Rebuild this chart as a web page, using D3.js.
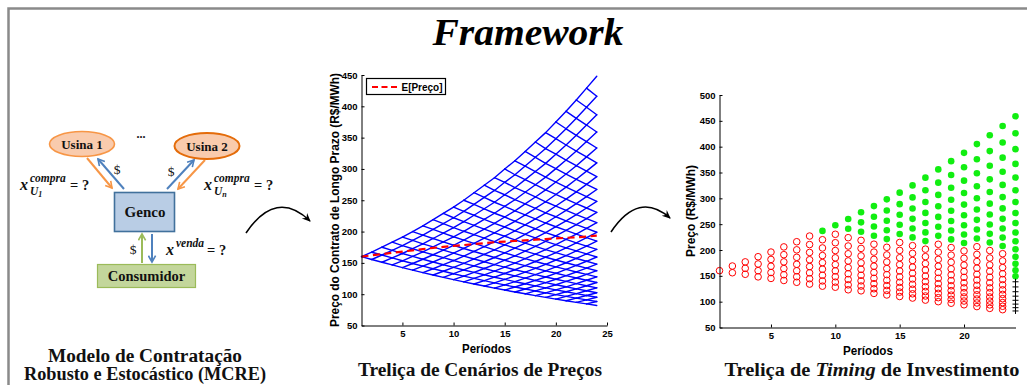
<!DOCTYPE html>
<html>
<head>
<meta charset="utf-8">
<script src="https://cdn.jsdelivr.net/npm/d3@7"></script>
<style>
  body { margin: 0; background: #fff; }
  svg { display: block; }
</style>
</head>
<body>
<svg id="fig" width="1027" height="385"></svg>
<script>
// ---- data ------------------------------------------------------------
const periods = [1,2,3,4,5,6,7,8,9,10,11,12,13,14,15,16,17,18,19,20,21,22,23,24];

// price lattice (scenario tree): highest and lowest node per period, R$/MWh
const scenarioTop    = [160,167,175,183,191,200,209,219,229,239,250,262,274,286,300,313,328,343,358,375,392,410,429,448];
const scenarioBottom = [160,155.4,151,146.7,142.5,138.4,134.5,130.6,126.9,123.3,119.7,116.3,113,109.7,106.6,103.5,100.6,97.7,94.9,92.2,89.6,87,84.5,82];
const expectedPrice  = [160,162,164,166,168,170,172,174,175.5,177,178.5,180,181.5,183,184,185,186,187,188,189,190,191,192,193.5];

// investment-timing lattice
const timingTop    = [160,169,177,187,196,206,216,227,237,248,260,273,285,298,311,325,340,356,372,388,405,422,440,459];
const timingBottom = [160,156,153,148,145,141,137.5,134,130,128,123,121,116,113,110,107,103,100,97,94,90.5,87,84.5,82];
// nodes (counted from the top) where investing is optimal, and nodes marked "+"
const investCount = [0,0,0,0,0,0,0,0,1,1,2,3,4,5,5,6,7,7,8,9,9,10,11,16];
const crossCount  = [0,0,0,0,0,0,0,0,0,0,0,0,0,0,0,0,0,0,0,0,0,0,0,8];

const midXTicks = [5,10,15,20,25];
const midYTicks = [50,100,150,200,250,300,350,400,450];
const rightXTicks = [5,10,15,20];
const rightYTicks = [50,100,150,200,250,300,350,400,450,500];

// ---- helpers -----------------------------------------------------------
// node j (0 = lowest) of period t in a recombining lattice
function latticeNode(top, bottom, t, j) {
  const n = t - 1;
  if (n === 0) return top[0];
  const lo = bottom[t - 1], hi = top[t - 1];
  return lo * Math.pow(hi / lo, j / n);
}

const svg = d3.select('#fig');
const sans = '"Liberation Sans", Arial, sans-serif';
const serif = '"Liberation Serif", "Times New Roman", serif';

// outer frame
svg.append('path')
  .attr('d', 'M8.5,385 V8.5 H1027')
  .attr('fill', 'none').attr('stroke', '#8a8a8a').attr('stroke-width', 2.5);

// title
svg.append('text')
  .attr('x', 528).attr('y', 45).attr('text-anchor', 'middle')
  .attr('font-family', serif).attr('font-weight', 'bold').attr('font-style', 'italic')
  .attr('font-size', 38).attr('textLength', 191).attr('lengthAdjust', 'spacingAndGlyphs')
  .text('Framework');

// ---- contract diagram --------------------------------------------------
const diag = svg.append('g');
const defs = svg.append('defs');
function chevron(id, color) {
  defs.append('marker').attr('id', id).attr('viewBox', '0 0 10 10')
    .attr('refX', 8).attr('refY', 5).attr('markerWidth', 4.5).attr('markerHeight', 4.5)
    .attr('markerUnits', 'strokeWidth').attr('orient', 'auto')
    .append('path').attr('d', 'M1,1 L8,5 L1,9').attr('fill', 'none')
    .attr('stroke', color).attr('stroke-width', 1.8);
}
chevron('hOrange', '#f79646');
chevron('hBlue', '#4f81bd');
chevron('hGreen', '#9bbb59');
defs.append('marker').attr('id', 'hBlack').attr('viewBox', '0 0 10 10')
  .attr('refX', 8).attr('refY', 5).attr('markerWidth', 6).attr('markerHeight', 6)
  .attr('markerUnits', 'strokeWidth').attr('orient', 'auto')
  .append('path').attr('d', 'M0,1 L9,5 L0,9 L3,5 Z').attr('fill', '#000');

const flows = [
  { x1: 87,  y1: 158, x2: 112, y2: 188, c: '#f79646', m: 'hOrange' },
  { x1: 124, y1: 189, x2: 98,  y2: 159, c: '#4f81bd', m: 'hBlue' },
  { x1: 167, y1: 189, x2: 194, y2: 160, c: '#4f81bd', m: 'hBlue' },
  { x1: 205, y1: 160, x2: 178, y2: 189, c: '#f79646', m: 'hOrange' },
  { x1: 142, y1: 263, x2: 142, y2: 234, c: '#9bbb59', m: 'hGreen' },
  { x1: 152, y1: 234, x2: 152, y2: 262, c: '#4f81bd', m: 'hBlue' }
];
diag.selectAll('line.flow').data(flows).join('line')
  .attr('x1', d => d.x1).attr('y1', d => d.y1).attr('x2', d => d.x2).attr('y2', d => d.y2)
  .attr('stroke', d => d.c).attr('stroke-width', 2).attr('marker-end', d => `url(#${d.m})`);

diag.append('ellipse').attr('cx', 82).attr('cy', 144).attr('rx', 32.5).attr('ry', 12.5)
  .attr('fill', '#f9cbad').attr('stroke', '#f79646').attr('stroke-width', 1.6);
diag.append('ellipse').attr('cx', 207).attr('cy', 146).attr('rx', 32.5).attr('ry', 13)
  .attr('fill', '#f9cbad').attr('stroke', '#e46c0a').attr('stroke-width', 2);
diag.append('rect').attr('x', 114.5).attr('y', 192.5).attr('width', 60).attr('height', 39)
  .attr('fill', '#b9cde5').attr('stroke', '#41719c').attr('stroke-width', 1.6);
diag.append('rect').attr('x', 97.5).attr('y', 264.5).attr('width', 98).attr('height', 23)
  .attr('fill', '#c3d69b').attr('stroke', '#9bbb59').attr('stroke-width', 1.2);

function dtext(x, y, txt, size, opts = {}) {
  return diag.append('text').attr('x', x).attr('y', y)
    .attr('text-anchor', opts.anchor || 'middle')
    .attr('font-family', serif).attr('font-size', size)
    .attr('font-weight', opts.weight || 'bold')
    .attr('font-style', opts.style || 'normal')
    .attr('fill', '#111').text(txt);
}
dtext(82, 148.5, 'Usina 1', 13);
dtext(207, 150.5, 'Usina 2', 13);
dtext(141, 138, '...', 12);
dtext(145, 217, 'Genco', 15);
dtext(146.5, 281, 'Consumidor', 14.5);
dtext(117, 174, '$', 13.5, { weight: 'normal' });
dtext(171, 176, '$', 13.5, { weight: 'normal' });
dtext(133, 254, '$', 13.5, { weight: 'normal' });

// decision variables
function decisionVar(x, y, sup, sub, subIdx) {
  const t = diag.append('text').attr('x', x).attr('y', y)
    .attr('font-family', serif).attr('font-weight', 'bold').attr('font-style', 'italic')
    .attr('fill', '#111');
  t.append('tspan').attr('font-size', 16).text('x');
  const supX = x + 10;
  t.append('tspan').attr('x', supX).attr('y', y - 8).attr('font-size', 11.5).text(sup);
  let endX = supX + (sup === 'compra' ? 38 : 29);
  if (sub) {
    const s = t.append('tspan').attr('x', supX).attr('y', y + 5).attr('font-size', 11.5).text(sub);
    if (subIdx) s.append('tspan').attr('font-size', 8).attr('dy', 2).text(subIdx);
  }
  diag.append('text').attr('x', endX + 2).attr('y', y)
    .attr('font-family', serif).attr('font-weight', 'bold').attr('font-size', 14.5)
    .attr('fill', '#111').text('= ?');
}
decisionVar(20, 190, 'compra', 'U', '1');
decisionVar(204, 190, 'compra', 'U', 'n');
decisionVar(166, 255, 'venda', null, null);

// curved transition arrows
svg.append('path').attr('d', 'M246,233 Q276,188.5 310,221')
  .attr('fill', 'none').attr('stroke', '#000').attr('stroke-width', 1.6).attr('marker-end', 'url(#hBlack)');
svg.append('path').attr('d', 'M611,232 Q638.5,190.5 670,218')
  .attr('fill', 'none').attr('stroke', '#000').attr('stroke-width', 1.6).attr('marker-end', 'url(#hBlack)');

// ---- axes helper -------------------------------------------------------
function drawAxes(g, x, y, xTicks, yTicks) {
  const ax = g.append('g').attr('transform', `translate(0,${y.range()[0]})`)
    .call(d3.axisBottom(x).tickValues(xTicks).tickSizeInner(-3).tickSizeOuter(0).tickPadding(5));
  const ay = g.append('g').attr('transform', `translate(${x.range()[0]},0)`)
    .call(d3.axisLeft(y).tickValues(yTicks).tickSizeInner(-3).tickSizeOuter(0).tickPadding(4));
  [ax, ay].forEach(a => {
    a.selectAll('text').attr('font-family', sans).attr('font-weight', 'bold')
      .attr('font-size', 9.5).attr('fill', '#000');
    a.selectAll('line, path').attr('stroke', '#000').attr('stroke-width', 1);
  });
}

// ---- price scenario lattice ----------------------------------------------
const mx = d3.scaleLinear().domain([1, 25]).range([361.5, 607]);
const my = d3.scaleLinear().domain([50, 450]).range([325.5, 75]);
const mid = svg.append('g');

const segments = [];
periods.slice(0, -1).forEach(t => {
  for (let j = 0; j < t; j++) {
    const v = latticeNode(scenarioTop, scenarioBottom, t, j);
    segments.push([t, v, t + 1, latticeNode(scenarioTop, scenarioBottom, t + 1, j)]);
    segments.push([t, v, t + 1, latticeNode(scenarioTop, scenarioBottom, t + 1, j + 1)]);
  }
});
mid.append('g').selectAll('line').data(segments).join('line')
  .attr('x1', d => mx(d[0])).attr('y1', d => my(d[1]))
  .attr('x2', d => mx(d[2])).attr('y2', d => my(d[3]))
  .attr('stroke', '#0000ff').attr('stroke-width', 1.4).attr('stroke-linecap', 'round');

mid.append('path').datum(periods)
  .attr('d', d3.line().x(t => mx(t)).y((t, i) => my(expectedPrice[i])))
  .attr('fill', 'none').attr('stroke', '#ff0000').attr('stroke-width', 2.2)
  .attr('stroke-dasharray', '7,4.5');

drawAxes(mid, mx, my, midXTicks, midYTicks);

// legend
const leg = mid.append('g');
leg.append('rect').attr('x', 366.5).attr('y', 78.5).attr('width', 79).attr('height', 16)
  .attr('fill', '#fff').attr('stroke', '#000').attr('stroke-width', 1.2);
leg.append('line').attr('x1', 372).attr('x2', 399).attr('y1', 87).attr('y2', 87)
  .attr('stroke', '#ff0000').attr('stroke-width', 2.2).attr('stroke-dasharray', '6,3.5');
leg.append('text').attr('x', 401.5).attr('y', 91)
  .attr('font-family', sans).attr('font-weight', 'bold').attr('font-size', 11)
  .attr('textLength', 41).attr('lengthAdjust', 'spacingAndGlyphs').text('E[Preço]');

mid.append('text').attr('transform', 'translate(339,200) rotate(-90)')
  .attr('text-anchor', 'middle').attr('font-family', sans).attr('font-weight', 'bold')
  .attr('font-size', 12).attr('textLength', 254).attr('lengthAdjust', 'spacingAndGlyphs')
  .text('Preço do Contrato de Longo Prazo (R$/MWh)');
mid.append('text').attr('x', 486.5).attr('y', 353).attr('text-anchor', 'middle')
  .attr('font-family', sans).attr('font-weight', 'bold').attr('font-size', 13)
  .attr('textLength', 49).attr('lengthAdjust', 'spacingAndGlyphs').text('Períodos');

// ---- investment timing lattice -------------------------------------------
const rx = d3.scaleLinear().domain([1, 24]).range([719.5, 1015.5]);
const ry = d3.scaleLinear().domain([50, 500]).range([327.5, 95]);
const right = svg.append('g');

const nodes = [];
periods.forEach((t, i) => {
  for (let k = 0; k < t; k++) {           // k = 0 is the highest node
    const v = latticeNode(timingTop, timingBottom, t, t - 1 - k);
    let kind = 'wait';
    if (k < investCount[i]) kind = 'invest';
    else if (k >= t - crossCount[i]) kind = 'cross';
    nodes.push({ t, v, kind });
  }
});

right.append('g').selectAll('circle.wait').data(nodes.filter(d => d.kind === 'wait')).join('circle')
  .attr('cx', d => rx(d.t)).attr('cy', d => ry(d.v)).attr('r', 3.3)
  .attr('fill', 'none').attr('stroke', '#ff0000').attr('stroke-width', 1);
right.append('g').selectAll('circle.invest').data(nodes.filter(d => d.kind === 'invest')).join('circle')
  .attr('cx', d => rx(d.t)).attr('cy', d => ry(d.v)).attr('r', 3.3)
  .attr('fill', '#11ee11');
right.append('g').selectAll('path.cross').data(nodes.filter(d => d.kind === 'cross')).join('path')
  .attr('d', d => { const x = rx(d.t), y = ry(d.v); return `M${x - 3},${y}H${x + 3}M${x},${y - 3}V${y + 3}`; })
  .attr('stroke', '#000').attr('stroke-width', 1);

drawAxes(right, rx, ry, rightXTicks, rightYTicks);

right.append('text').attr('transform', 'translate(694.5,211) rotate(-90)')
  .attr('text-anchor', 'middle').attr('font-family', sans).attr('font-weight', 'bold')
  .attr('font-size', 12).attr('textLength', 92).attr('lengthAdjust', 'spacingAndGlyphs')
  .text('Preço (R$/MWh)');
right.append('text').attr('x', 868).attr('y', 355).attr('text-anchor', 'middle')
  .attr('font-family', sans).attr('font-weight', 'bold').attr('font-size', 13)
  .attr('textLength', 50).attr('lengthAdjust', 'spacingAndGlyphs').text('Períodos');

// ---- captions --------------------------------------------------------------
function caption(x, y, width, parts) {
  const t = svg.append('text').attr('x', x).attr('y', y).attr('text-anchor', 'middle')
    .attr('font-family', serif).attr('font-weight', 'bold').attr('font-size', 18)
    .attr('textLength', width).attr('lengthAdjust', 'spacingAndGlyphs').attr('fill', '#111');
  parts.forEach(p => t.append('tspan').attr('font-style', p.italic ? 'italic' : 'normal').text(p.s));
}
caption(145, 362, 194, [{ s: 'Modelo de Contratação' }]);
caption(145, 380, 242, [{ s: 'Robusto e Estocástico (MCRE)' }]);
caption(480, 376, 244, [{ s: 'Treliça de Cenários de Preços' }]);
caption(872, 376, 295, [{ s: 'Treliça de ' }, { s: 'Timing', italic: true }, { s: ' de Investimento' }]);
</script>
</body>
</html>
